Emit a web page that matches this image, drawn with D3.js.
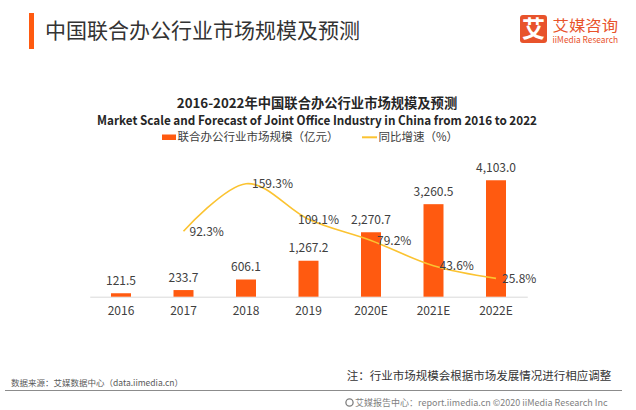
<!DOCTYPE html>
<html>
<head>
<meta charset="utf-8">
<script src="https://cdn.jsdelivr.net/npm/d3@7"></script>
<style>
  html, body { margin: 0; padding: 0; background: #ffffff; }
  svg { display: block; }
  text { font-family: "Noto Sans CJK SC", "Noto Sans", sans-serif; }
</style>
</head>
<body>
<svg id="chart" width="636" height="410"></svg>
<script>
const categories = ["2016", "2017", "2018", "2019", "2020E", "2021E", "2022E"];
const marketScale = [121.5, 233.7, 606.1, 1267.2, 2270.7, 3260.5, 4103.0];
const growthRate = [null, 92.3, 159.3, 109.1, 79.2, 43.6, 25.8];
const barDomain = [0, 4500];
const lineDomain = [0, 180];

const pageTitle = "中国联合办公行业市场规模及预测";
const chartTitleCn = "2016-2022年中国联合办公行业市场规模及预测";
const chartTitleEn = "Market Scale and Forecast of Joint Office Industry in China from 2016 to 2022";
const legendBar = "联合办公行业市场规模（亿元）";
const legendLine = "同比增速（%）";
const sourceText = "数据来源：艾媒数据中心（data.iimedia.cn）";
const noteText = "注：行业市场规模会根据市场发展情况进行相应调整";
const footerText = "艾媒报告中心：report.iimedia.cn ©2020  iiMedia Research  Inc";

const BAR = "#FF5A10";
const LINE = "#FBC331";
const TXT = "#404040";
const LATIN = "Lato, \"Open Sans\", sans-serif";

const svg = d3.select("#chart");

// header
svg.append("rect").attr("x", 29).attr("y", 13).attr("width", 5).attr("height", 36).attr("fill", "#FF5A10");
svg.append("text").attr("x", 45).attr("y", 38.3).attr("font-size", 21).attr("fill", "#333333").text(pageTitle);

// logo
svg.append("rect").attr("x", 520).attr("y", 15).attr("width", 27).attr("height", 28).attr("rx", 3).attr("fill", "#E8532B");
svg.append("text").attr("x", 533.5).attr("y", 37).attr("text-anchor", "middle").attr("font-size", 23).attr("font-weight", "bold").attr("fill", "#ffffff").text("艾");
svg.append("text").attr("x", 552.5).attr("y", 30.5).attr("font-size", 15.2).attr("fill", "#E8532B")
  .attr("textLength", 65.5).attr("lengthAdjust", "spacingAndGlyphs").text("艾媒咨询");
svg.append("text").attr("x", 552.5).attr("y", 43.3).attr("font-size", 8.8).attr("fill", "#E8532B")
  .attr("font-family", "\"Liberation Sans\", Arial, sans-serif")
  .attr("textLength", 65.5).attr("lengthAdjust", "spacingAndGlyphs").text("iiMedia Research");

// chart titles
svg.append("text").attr("x", 317).attr("y", 108).attr("text-anchor", "middle").attr("font-size", 13.3).attr("font-weight", "bold").attr("fill", "#262626").text(chartTitleCn);
svg.append("text").attr("x", 317).attr("y", 125).attr("text-anchor", "middle").attr("font-size", 12.3).attr("font-weight", "bold").attr("fill", "#262626").attr("font-family", LATIN)
  .attr("textLength", 440).attr("lengthAdjust", "spacingAndGlyphs").text(chartTitleEn);

// legend
svg.append("rect").attr("x", 162).attr("y", 134.5).attr("width", 14).attr("height", 5.5).attr("fill", BAR);
svg.append("text").attr("x", 177.5).attr("y", 141.4).attr("font-size", 11.5).attr("fill", TXT).text(legendBar);
svg.append("line").attr("x1", 362).attr("x2", 377).attr("y1", 137.3).attr("y2", 137.3).attr("stroke", LINE).attr("stroke-width", 2);
svg.append("text").attr("x", 378.5).attr("y", 141.4).attr("font-size", 11.5).attr("fill", TXT).text(legendLine);

// scales
const x = d3.scaleBand().domain(categories).range([89.75, 527.25]).paddingInner(0.68).paddingOuter(0.34);
const yBar = d3.scaleLinear().domain(barDomain).range([296.7, 169]);
const yLine = d3.scaleLinear().domain(lineDomain).range([296.7, 169]);

// axis
const xAxis = d3.axisBottom(x).tickSize(0).tickPadding(10);
const gx = svg.append("g").attr("transform", "translate(0,296.7)").call(xAxis);
gx.select(".domain").attr("stroke", "#D9D9D9").attr("stroke-width", 1);
gx.selectAll("text").attr("font-size", 12).attr("fill", TXT).attr("font-family", "\"Noto Sans CJK SC\", sans-serif");

// bars
svg.append("g").selectAll("rect").data(marketScale).join("rect")
  .attr("x", (d, i) => x(categories[i]))
  .attr("width", x.bandwidth())
  .attr("y", d => yBar(d))
  .attr("height", d => yBar(0) - yBar(d))
  .attr("fill", BAR);

svg.append("g").selectAll("text").data(marketScale).join("text")
  .attr("x", (d, i) => x(categories[i]) + x.bandwidth() / 2)
  .attr("y", d => yBar(d) - 8.5)
  .attr("text-anchor", "middle")
  .attr("font-size", 12)
  .attr("fill", TXT)
  .text(d => d3.format(",.1f")(d));

// line
const pts = growthRate.map((v, i) => ({ v, c: categories[i], i })).filter(p => p.v !== null);
const line = d3.line()
  .x(p => x(p.c) + x.bandwidth() / 2)
  .y(p => yLine(p.v))
  .curve(d3.curveCatmullRom.alpha(0));
svg.append("path").attr("d", line(pts)).attr("fill", "none").attr("stroke", LINE).attr("stroke-width", 1.6);

svg.append("g").selectAll("text").data(pts).join("text")
  .attr("x", p => x(p.c) + x.bandwidth() / 2 + (p.c === "2019" ? -10.5 : 6))
  .attr("y", p => yLine(p.v) + 4.3)
  .attr("font-size", 12)
  .attr("fill", TXT)
  .text(p => d3.format(".1f")(p.v) + "%");

// footer
svg.append("text").attr("x", 11).attr("y", 385.7).attr("font-size", 8.5).attr("fill", "#595959").text(sourceText);
svg.append("text").attr("x", 346.7).attr("y", 380.2).attr("font-size", 11.5).attr("fill", "#333333").text(noteText);
svg.append("line").attr("x1", 5).attr("x2", 622).attr("y1", 390.5).attr("y2", 390.5).attr("stroke", "#8C8C8C").attr("stroke-width", 1.2);
svg.append("circle").attr("cx", 349.5).attr("cy", 402.5).attr("r", 3.6).attr("fill", "none").attr("stroke", "#7F7F7F").attr("stroke-width", 1.3);
svg.append("text").attr("x", 355).attr("y", 405.7).attr("font-size", 9).attr("fill", "#7F7F7F").text(footerText);
</script>
</body>
</html>
